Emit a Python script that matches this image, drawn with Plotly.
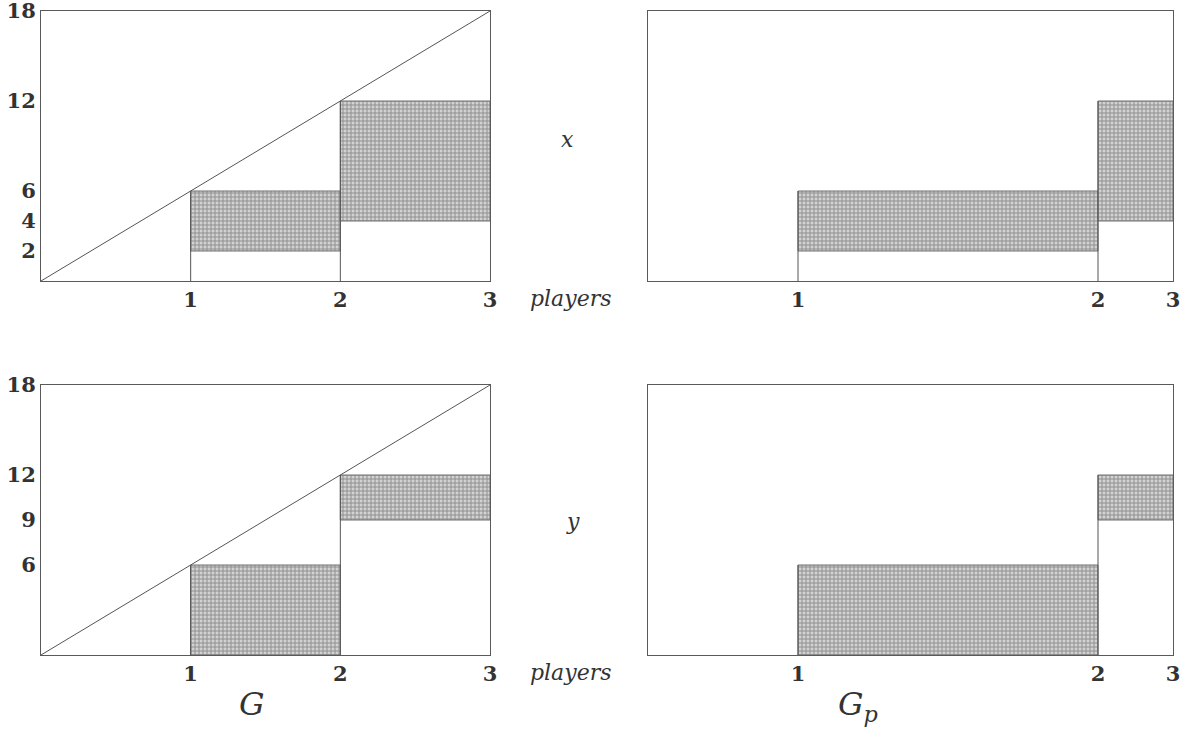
import numpy as np
import plotly.graph_objects as go

# ---------------- data ----------------
players = [1, 2, 3]
player_tick_labels = ["1", "2", "3"]
y_max = 18
diag_x = [0, 3]
diag_y = [0, 18]

# shaded intervals per player (None = no interval): [low, high]
x_intervals = [None, [2, 6], [4, 12]]
y_intervals = [None, [0, 6], [9, 12]]
x_ticks = [2, 4, 6, 12, 18]
y_ticks = [6, 9, 12, 18]

# widths of the player segments in the G_p panels
gp_player_widths = [1, 2, 0.5]

W, H = 1187, 735
FRAME = "#5a5a5a"
TICKFONT = dict(family="DejaVu Serif", size=21, color="#333333", weight="bold")
ITFAMILY = "DejaVu Serif"

fig = go.Figure()

def bounds_from_widths(widths):
    return [0.0] + list(np.cumsum(widths))

g_bounds = bounds_from_widths([1, 1, 1])
gp_bounds = bounds_from_widths(gp_player_widths)

panels = [
    ("x", "y", g_bounds, x_intervals, x_ticks, True, (41, 490), (11, 281)),
    ("x2", "y2", gp_bounds, x_intervals, None, False, (648, 1173), (11, 281)),
    ("x3", "y3", g_bounds, y_intervals, y_ticks, True, (41, 490), (385, 655)),
    ("x4", "y4", gp_bounds, y_intervals, None, False, (648, 1173), (385, 655)),
]

layout = {}
for i, (xa, ya, bounds, intervals, yt, diag, xd, yd) in enumerate(panels):
    for p, iv in enumerate(intervals):
        if iv is None:
            continue
        x0, x1 = bounds[p], bounds[p + 1]
        lo, hi = iv
        fig.add_trace(go.Scatter(
            x=[x0, x1, x1, x0, x0], y=[lo, lo, hi, hi, lo],
            mode="lines", fill="toself",
            fillcolor="#c8c8c8",
            fillpattern=dict(shape="+", fgcolor="#8a8a8a", bgcolor="#d2d2d2", size=4, solidity=0.4),
            line=dict(color="#6e6e6e", width=1),
            xaxis=xa, yaxis=ya, showlegend=False, hoverinfo="skip"))
    for b in range(1, len(bounds) - 1):
        tops = [iv[1] for iv in (intervals[b - 1], intervals[b]) if iv is not None]
        top = max(tops) if tops else 0
        fig.add_trace(go.Scatter(
            x=[bounds[b], bounds[b]], y=[0, top], mode="lines",
            line=dict(color="#555555", width=1),
            xaxis=xa, yaxis=ya, showlegend=False, hoverinfo="skip"))
    if diag:
        fig.add_trace(go.Scatter(
            x=diag_x, y=diag_y, mode="lines",
            line=dict(color="#555555", width=1),
            xaxis=xa, yaxis=ya, showlegend=False, hoverinfo="skip"))

    suffix = "" if i == 0 else str(i + 1)
    layout["xaxis" + suffix] = dict(
        domain=[xd[0] / W, xd[1] / W], range=[0, bounds[-1]],
        showgrid=False, zeroline=False, showline=True, mirror=True,
        linecolor=FRAME, linewidth=1, automargin=False,
        tickvals=bounds[1:], ticktext=player_tick_labels,
        ticks="", ticklabeloverflow="allow",
        tickfont=TICKFONT, anchor=ya,
    )
    layout["yaxis" + suffix] = dict(
        domain=[1 - yd[1] / H, 1 - yd[0] / H], range=[0, y_max],
        showgrid=False, zeroline=False, showline=True, mirror=True,
        linecolor=FRAME, linewidth=1, automargin=False,
        tickvals=yt if yt else [], showticklabels=bool(yt),
        ticks="", ticklabeloverflow="allow",
        tickfont=TICKFONT, anchor=xa,
    )

ann = []
def paper_text(text, px, py, size=22):
    ann.append(dict(text=text, x=px / W, y=1 - py / H, xref="paper", yref="paper",
                    showarrow=False, xanchor="center", yanchor="middle",
                    font=dict(family=ITFAMILY, size=size, color="#333333")))

paper_text("<i>x</i>", 567, 139)
paper_text("<i>y</i>", 573, 521)
paper_text("<i>players</i>", 571, 298)
paper_text("<i>players</i>", 571, 672)
paper_text("<i>G</i>", 252, 704, size=32)
paper_text("<i>G<sub>p</sub></i>", 858, 706, size=32)

fig.update_layout(
    template="none",
    width=W, height=H, margin=dict(l=0, r=0, t=0, b=0),
    paper_bgcolor="white", plot_bgcolor="white",
    annotations=ann, **layout,
)

fig.write_html(
    "out.html",
    config={"displayModeBar": False},
    post_script="document.body.style.margin='0';document.body.style.overflow='hidden';",
)
